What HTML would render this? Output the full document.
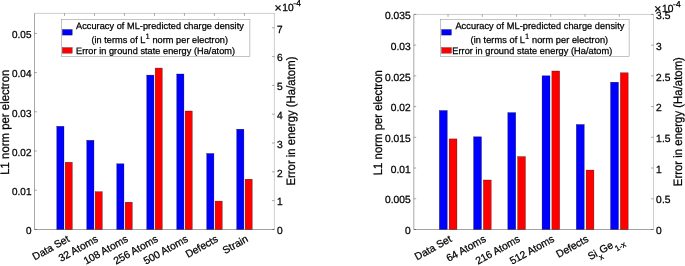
<!DOCTYPE html>
<html lang="en"><head><meta charset="utf-8"><title>Charts</title>
<style>
html,body{margin:0;padding:0;background:#fff;}
body{width:685px;height:266px;overflow:hidden;}
svg{display:block;font-family:"Liberation Sans", Arial, Helvetica, sans-serif;}
text{stroke:#000;stroke-width:0.25px;text-rendering:geometricPrecision;}
</style></head><body>
<svg width="685" height="266" viewBox="0 0 685 266">
<rect width="685" height="266" fill="#fff"/>
<rect x="56.79" y="126.3" width="7.2" height="103.2" fill="#0000ff" stroke="#000" stroke-opacity="0.7" stroke-width="0.4"/>
<rect x="65.19" y="162.25" width="7.1" height="67.25" fill="#ff0000" stroke="#000" stroke-opacity="0.7" stroke-width="0.4"/>
<rect x="86.77" y="140.3" width="7.2" height="89.2" fill="#0000ff" stroke="#000" stroke-opacity="0.7" stroke-width="0.4"/>
<rect x="95.17" y="191.7" width="7.1" height="37.8" fill="#ff0000" stroke="#000" stroke-opacity="0.7" stroke-width="0.4"/>
<rect x="116.76" y="163.8" width="7.2" height="65.7" fill="#0000ff" stroke="#000" stroke-opacity="0.7" stroke-width="0.4"/>
<rect x="125.16" y="202.2" width="7.1" height="27.3" fill="#ff0000" stroke="#000" stroke-opacity="0.7" stroke-width="0.4"/>
<rect x="146.75" y="75.1" width="7.2" height="154.4" fill="#0000ff" stroke="#000" stroke-opacity="0.7" stroke-width="0.4"/>
<rect x="155.15" y="68.06" width="7.1" height="161.44" fill="#ff0000" stroke="#000" stroke-opacity="0.7" stroke-width="0.4"/>
<rect x="176.74" y="74" width="7.2" height="155.5" fill="#0000ff" stroke="#000" stroke-opacity="0.7" stroke-width="0.4"/>
<rect x="185.14" y="111" width="7.1" height="118.5" fill="#ff0000" stroke="#000" stroke-opacity="0.7" stroke-width="0.4"/>
<rect x="206.72" y="153.5" width="7.2" height="76" fill="#0000ff" stroke="#000" stroke-opacity="0.7" stroke-width="0.4"/>
<rect x="215.12" y="201.1" width="7.1" height="28.4" fill="#ff0000" stroke="#000" stroke-opacity="0.7" stroke-width="0.4"/>
<rect x="236.71" y="129.2" width="7.2" height="100.3" fill="#0000ff" stroke="#000" stroke-opacity="0.7" stroke-width="0.4"/>
<rect x="245.11" y="179.2" width="7.1" height="50.3" fill="#ff0000" stroke="#000" stroke-opacity="0.7" stroke-width="0.4"/>
<g stroke="#262626" stroke-width="0.5" fill="none">
<path d="M34.5 13.4H274.4" stroke-opacity="0.45"/>
<path d="M274.4 13.4V229.5" stroke-opacity="0.45"/>
<path d="M34.5 13.4V229.5" stroke-opacity="0.8"/>
<path d="M34.5 229.5H274.4" stroke-opacity="0.85"/>
<path d="M64.49 13.4v2.4M94.47 13.4v2.4M124.46 13.4v2.4M154.45 13.4v2.4M184.44 13.4v2.4M214.42 13.4v2.4M244.41 13.4v2.4M34.5 229.4h2.4M34.5 190.2h2.4M34.5 151h2.4M34.5 111.8h2.4M34.5 72.6h2.4M34.5 33.4h2.4M274.4 229.4h-2.4M274.4 200.6h-2.4M274.4 171.8h-2.4M274.4 143h-2.4M274.4 114.2h-2.4M274.4 85.4h-2.4M274.4 56.6h-2.4M274.4 27.8h-2.4" stroke-opacity="0.8"/>
</g>
<g font-size="10.4" fill="#000">
<text transform="translate(31.6 234.1) skewX(1)" font-size="10.1" text-anchor="end">0</text>
<text transform="translate(31.6 194.9) skewX(1)" font-size="10.1" text-anchor="end">0.01</text>
<text transform="translate(31.6 155.7) skewX(1)" font-size="10.1" text-anchor="end">0.02</text>
<text transform="translate(31.6 116.5) skewX(1)" font-size="10.1" text-anchor="end">0.03</text>
<text transform="translate(31.6 77.3) skewX(1)" font-size="10.1" text-anchor="end">0.04</text>
<text transform="translate(31.6 38.1) skewX(1)" font-size="10.1" text-anchor="end">0.05</text>
<text transform="translate(277 234.1) skewX(1)">0</text>
<text transform="translate(277 205.3) skewX(1)">1</text>
<text transform="translate(277 176.5) skewX(1)">2</text>
<text transform="translate(277 147.7) skewX(1)">3</text>
<text transform="translate(277 118.9) skewX(1)">4</text>
<text transform="translate(277 90.1) skewX(1)">5</text>
<text transform="translate(277 61.3) skewX(1)">6</text>
<text transform="translate(277 32.5) skewX(1)">7</text>
<text transform="translate(70.19 241) rotate(-29)" text-anchor="end">Data Set</text>
<text transform="translate(98.88 241) rotate(-29)" text-anchor="end">32 Atoms</text>
<text transform="translate(128.86 241) rotate(-29)" text-anchor="end">108 Atoms</text>
<text transform="translate(158.85 241) rotate(-29)" text-anchor="end">256 Atoms</text>
<text transform="translate(188.84 241) rotate(-29)" text-anchor="end">500 Atoms</text>
<text transform="translate(218.82 241) rotate(-29)" text-anchor="end">Defects</text>
<text transform="translate(248.81 241) rotate(-29)" text-anchor="end">Strain</text>
<text transform="translate(274.6 12.4) skewX(1)" font-size="12.4">×</text>
<text transform="translate(282.2 11.4) skewX(1)">10<tspan dy="-5.4" dx="-0.3" font-size="8.6">-4</tspan></text>
</g>
<g font-size="12.2" fill="#000" text-anchor="middle">
<text transform="translate(8.5 122.2) rotate(-90) scale(0.934 1) skewX(1)">L1 norm per electron</text>
<text transform="translate(294.5 121.1) rotate(-90) scale(0.934 1) skewX(1)">Error in energy (Ha/atom)</text>
</g>
<rect x="61.3" y="19.3" width="188.6" height="37.1" fill="#fff" stroke="#262626" stroke-opacity="0.55" stroke-width="0.5"/>
<rect x="62.4" y="29.5" width="9.8" height="5.6" fill="#0000ff" stroke="#000" stroke-opacity="0.7" stroke-width="0.4"/>
<rect x="62.4" y="47.6" width="9.8" height="5.6" fill="#ff0000" stroke="#000" stroke-opacity="0.7" stroke-width="0.4"/>
<g font-size="9.28" fill="#000">
<text transform="translate(76 28.9) skewX(1)">Accuracy of ML-predicted charge density</text>
<text transform="translate(91.4 42.6) skewX(1)">(in terms of L<tspan dy="-4.1" font-size="7.8" stroke-width="0.18">1</tspan><tspan dy="4.1"> norm per electron)</tspan></text>
<text transform="translate(76 53.9) skewX(1)">Error in ground state energy (Ha/atom)</text>
</g>
<rect x="439.34" y="110.5" width="7.9" height="119" fill="#0000ff" stroke="#000" stroke-opacity="0.7" stroke-width="0.4"/>
<rect x="449.14" y="138.9" width="7.8" height="90.6" fill="#ff0000" stroke="#000" stroke-opacity="0.7" stroke-width="0.4"/>
<rect x="473.59" y="136.8" width="7.9" height="92.7" fill="#0000ff" stroke="#000" stroke-opacity="0.7" stroke-width="0.4"/>
<rect x="483.39" y="180" width="7.8" height="49.5" fill="#ff0000" stroke="#000" stroke-opacity="0.7" stroke-width="0.4"/>
<rect x="507.83" y="112.6" width="7.9" height="116.9" fill="#0000ff" stroke="#000" stroke-opacity="0.7" stroke-width="0.4"/>
<rect x="517.63" y="156.6" width="7.8" height="72.9" fill="#ff0000" stroke="#000" stroke-opacity="0.7" stroke-width="0.4"/>
<rect x="542.07" y="75.8" width="7.9" height="153.7" fill="#0000ff" stroke="#000" stroke-opacity="0.7" stroke-width="0.4"/>
<rect x="551.87" y="71" width="7.8" height="158.5" fill="#ff0000" stroke="#000" stroke-opacity="0.7" stroke-width="0.4"/>
<rect x="576.31" y="124.5" width="7.9" height="105" fill="#0000ff" stroke="#000" stroke-opacity="0.7" stroke-width="0.4"/>
<rect x="586.11" y="170.05" width="7.8" height="59.45" fill="#ff0000" stroke="#000" stroke-opacity="0.7" stroke-width="0.4"/>
<rect x="610.56" y="82.2" width="7.9" height="147.3" fill="#0000ff" stroke="#000" stroke-opacity="0.7" stroke-width="0.4"/>
<rect x="620.36" y="72.8" width="7.8" height="156.7" fill="#ff0000" stroke="#000" stroke-opacity="0.7" stroke-width="0.4"/>
<g stroke="#262626" stroke-width="0.5" fill="none">
<path d="M413.8 14.45H653.5" stroke-opacity="0.45"/>
<path d="M653.5 14.45V229.5" stroke-opacity="0.45"/>
<path d="M413.8 14.45V229.5" stroke-opacity="0.8"/>
<path d="M413.8 229.5H653.5" stroke-opacity="0.85"/>
<path d="M448.04 14.45v2.4M482.29 14.45v2.4M516.53 14.45v2.4M550.77 14.45v2.4M585.01 14.45v2.4M619.26 14.45v2.4M413.8 229.5h2.4M413.8 198.77h2.4M413.8 168.04h2.4M413.8 137.31h2.4M413.8 106.58h2.4M413.8 75.85h2.4M413.8 45.12h2.4M413.8 14.39h2.4M653.5 229.5h-2.4M653.5 198.77h-2.4M653.5 168.04h-2.4M653.5 137.31h-2.4M653.5 106.58h-2.4M653.5 75.85h-2.4M653.5 45.12h-2.4M653.5 14.39h-2.4" stroke-opacity="0.8"/>
</g>
<g font-size="10.4" fill="#000">
<text transform="translate(410.9 234.2) skewX(1)" font-size="10.4" text-anchor="end">0</text>
<text transform="translate(410.9 203.47) skewX(1)" font-size="10.4" text-anchor="end">0.005</text>
<text transform="translate(410.9 172.74) skewX(1)" font-size="10.4" text-anchor="end">0.01</text>
<text transform="translate(410.9 142.01) skewX(1)" font-size="10.4" text-anchor="end">0.015</text>
<text transform="translate(410.9 111.28) skewX(1)" font-size="10.4" text-anchor="end">0.02</text>
<text transform="translate(410.9 80.55) skewX(1)" font-size="10.4" text-anchor="end">0.025</text>
<text transform="translate(410.9 49.82) skewX(1)" font-size="10.4" text-anchor="end">0.03</text>
<text transform="translate(410.9 19.09) skewX(1)" font-size="10.4" text-anchor="end">0.035</text>
<text transform="translate(656.1 234.2) skewX(1)">0</text>
<text transform="translate(656.1 203.47) skewX(1)">0.5</text>
<text transform="translate(656.1 172.74) skewX(1)">1</text>
<text transform="translate(656.1 142.01) skewX(1)">1.5</text>
<text transform="translate(656.1 111.28) skewX(1)">2</text>
<text transform="translate(656.1 80.55) skewX(1)">2.5</text>
<text transform="translate(656.1 49.82) skewX(1)">3</text>
<text transform="translate(656.1 19.09) skewX(1)">3.5</text>
<text transform="translate(452.44 241) rotate(-29)" text-anchor="end">Data Set</text>
<text transform="translate(486.69 241) rotate(-29)" text-anchor="end">64 Atoms</text>
<text transform="translate(520.93 241) rotate(-29)" text-anchor="end">216 Atoms</text>
<text transform="translate(555.17 241) rotate(-29)" text-anchor="end">512 Atoms</text>
<text transform="translate(589.41 241) rotate(-29)" text-anchor="end">Defects</text>
<text transform="translate(623.96 241.6) rotate(-29)" text-anchor="end">Si<tspan dy="5.2" font-size="8">x</tspan><tspan dy="-5.2">Ge</tspan><tspan dy="5.2" dx="0.3" font-size="8">1-x</tspan></text>
<text transform="translate(654.3 13) skewX(1)" font-size="12.4">×</text>
<text transform="translate(661.9 12) skewX(1)">10<tspan dy="-5.4" dx="-0.3" font-size="8.6">-4</tspan></text>
</g>
<g font-size="12.2" fill="#000" text-anchor="middle">
<text transform="translate(381.9 122.72) rotate(-90) scale(0.934 1) skewX(1)">L1 norm per electron</text>
<text transform="translate(682.4 121.62) rotate(-90) scale(0.934 1) skewX(1)">Error in energy (Ha/atom)</text>
</g>
<rect x="440.3" y="19.3" width="188.8" height="37.1" fill="#fff" stroke="#262626" stroke-opacity="0.55" stroke-width="0.5"/>
<rect x="441.6" y="29.5" width="9.8" height="5.6" fill="#0000ff" stroke="#000" stroke-opacity="0.7" stroke-width="0.4"/>
<rect x="441.6" y="47.6" width="9.8" height="5.6" fill="#ff0000" stroke="#000" stroke-opacity="0.7" stroke-width="0.4"/>
<g font-size="9.34" fill="#000">
<text transform="translate(455.4 28.9) skewX(1)">Accuracy of ML-predicted charge density</text>
<text transform="translate(470.6 42.6) skewX(1)">(in terms of L<tspan dy="-4.1" font-size="7.8" stroke-width="0.18">1</tspan><tspan dy="4.1"> norm per electron)</tspan></text>
<text transform="translate(452.2 53.9) skewX(1)">Error in ground state energy (Ha/atom)</text>
</g>
</svg>
</body></html>
